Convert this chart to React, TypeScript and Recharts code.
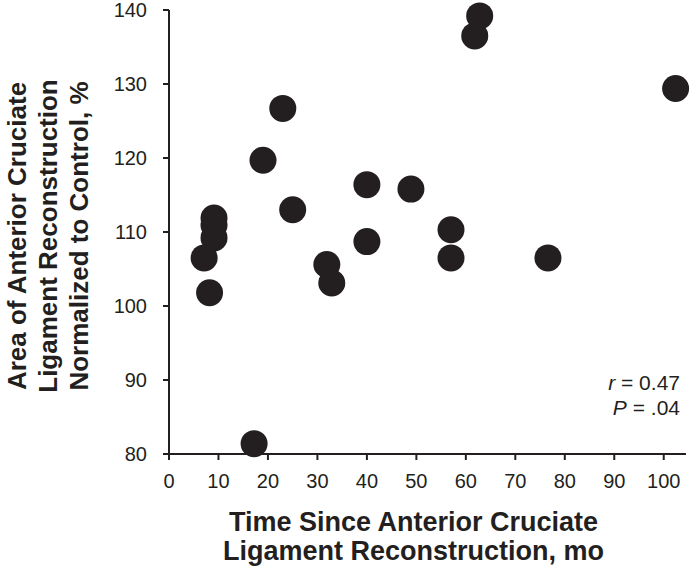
import { ScatterChart, Scatter, XAxis, YAxis, Label } from "recharts";

// months since ACL reconstruction
const months = [7.1, 8.2, 9.1, 9.1, 9.1, 17.2, 19, 23, 25, 31.9, 32.9, 40, 40, 48.9, 57, 57, 61.8, 62.8, 76.6, 102.4];
// ACL reconstruction area normalized to control, %
const areaPct = [106.5, 101.8, 111.9, 110.9, 109.2, 81.4, 119.7, 126.7, 113, 105.6, 103.1, 116.4, 108.7, 115.8, 110.3, 106.5, 136.5, 139.2, 106.5, 129.4];

const xTicks = [0, 10, 20, 30, 40, 50, 60, 70, 80, 90, 100];
const yTicks = [80, 90, 100, 110, 120, 130, 140];

const xTitle = ["Time Since Anterior Cruciate", "Ligament Reconstruction, mo"];
const yTitle = ["Area of Anterior Cruciate", "Ligament Reconstruction", "Normalized to Control, %"];

const INK = "#231f20";
const FONT = "'Liberation Sans', Arial, Helvetica, sans-serif";

const data = months.map((m, i) => ({ m, a: areaPct[i] }));

function Dot(props: any) {
  return <circle cx={props.cx} cy={props.cy} r={13.5} fill={INK} />;
}

function XTitle(props: any) {
  const vb = props.viewBox;
  const cx = vb.x + vb.width / 2;
  return (
    <g>
      {xTitle.map((t, i) => (
        <text
          key={i}
          x={cx - 14}
          y={531 + i * 29}
          textAnchor="middle"
          fontFamily={FONT}
          fontWeight="bold"
          fontSize={27}
          fill={INK}
        >
          {t}
        </text>
      ))}
    </g>
  );
}

function YTitle(props: any) {
  const vb = props.viewBox;
  const cy = vb.y + vb.height / 2 + 4;
  return (
    <g>
      {yTitle.map((t, i) => {
        const x = 26 + i * 31;
        return (
          <text
            key={i}
            x={x}
            y={cy}
            transform={`rotate(-90 ${x} ${cy})`}
            textAnchor="middle"
            fontFamily={FONT}
            fontWeight="bold"
            fontSize={26}
            fill={INK}
          >
            {t}
          </text>
        );
      })}
    </g>
  );
}

export default function App() {
  return (
    <div style={{ position: "absolute", left: 0, top: 0, width: 690, height: 571, background: "#fff" }}>
      <ScatterChart width={690} height={571} margin={{ top: 10, right: 4, bottom: 0, left: 0 }}>
        <XAxis
          type="number"
          dataKey="m"
          domain={[0, 104.5]}
          ticks={xTicks}
          interval={0}
          height={117}
          axisLine={{ stroke: INK, strokeWidth: 2 }}
          tickLine={{ stroke: INK, strokeWidth: 2 }}
          tickSize={6}
          tickMargin={14}
          tick={{ fill: INK, fontSize: 20, fontFamily: FONT }}
        >
          <Label content={<XTitle />} />
        </XAxis>
        <YAxis
          type="number"
          dataKey="a"
          domain={[80, 140]}
          ticks={yTicks}
          interval={0}
          width={169}
          axisLine={{ stroke: INK, strokeWidth: 2 }}
          tickLine={{ stroke: INK, strokeWidth: 2 }}
          tickSize={6}
          tickMargin={16}
          tick={{ fill: INK, fontSize: 20, fontFamily: FONT }}
        >
          <Label content={<YTitle />} />
        </YAxis>
        <Scatter data={data} shape={<Dot />} isAnimationActive={false} />
      </ScatterChart>
      <div
        style={{
          position: "absolute",
          right: 10,
          top: 370,
          textAlign: "right",
          fontFamily: FONT,
          fontSize: 21,
          lineHeight: "25px",
          color: INK,
        }}
      >
        <div>
          <i>r</i> = 0.47
        </div>
        <div>
          <i>P</i> = .04
        </div>
      </div>
    </div>
  );
}
